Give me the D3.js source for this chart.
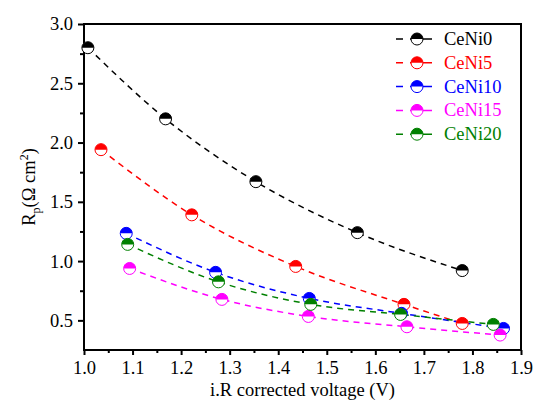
<!DOCTYPE html>
<html>
<head>
<meta charset="utf-8">
<script src="https://cdn.jsdelivr.net/npm/d3@7"></script>
<style>
  body { margin: 0; background: #fff; }
</style>
</head>
<body>
<div id="chart"></div>
<script>
// Series names and colours
const seriesNames = ["CeNi0", "CeNi5", "CeNi10", "CeNi15", "CeNi20"];
const seriesColors = ["#000000", "#ff0000", "#0000ff", "#ff00ff", "#008000"];

// Values: voltage (V) and Rp (ohm cm2)
const voltCeNi0 = [1.008, 1.168, 1.354, 1.563, 1.779];
const rpCeNi0 = [2.80, 2.20, 1.67, 1.24, 0.92];
const voltCeNi5 = [1.035, 1.222, 1.436, 1.659, 1.779];
const rpCeNi5 = [1.94, 1.39, 0.955, 0.635, 0.474];
const voltCeNi10 = [1.087, 1.271, 1.464, 1.654, 1.864];
const rpCeNi10 = [1.234, 0.905, 0.685, 0.559, 0.432];
const voltCeNi15 = [1.094, 1.284, 1.462, 1.665, 1.857];
const rpCeNi15 = [0.938, 0.677, 0.533, 0.446, 0.376];
const voltCeNi20 = [1.090, 1.277, 1.467, 1.652, 1.843];
const rpCeNi20 = [1.141, 0.825, 0.635, 0.550, 0.466];

// Tick values
const xTicks = [1.0, 1.1, 1.2, 1.3, 1.4, 1.5, 1.6, 1.7, 1.8, 1.9];
const xMinorTicks = [1.05, 1.15, 1.25, 1.35, 1.45, 1.55, 1.65, 1.75, 1.85];
const yTicks = [0.5, 1.0, 1.5, 2.0, 2.5, 3.0];
const yMinorTicks = [0.75, 1.25, 1.75, 2.25, 2.75];

const volts = [voltCeNi0, voltCeNi5, voltCeNi10, voltCeNi15, voltCeNi20];
const rps = [rpCeNi0, rpCeNi5, rpCeNi10, rpCeNi15, rpCeNi20];
const series = seriesNames.map((name, i) => ({
  name: name,
  color: seriesColors[i],
  points: volts[i].map((v, j) => ({ x: v, y: rps[i][j] })),
}));

const width = 535;
const height = 403;
const margin = { top: 24, right: 14, bottom: 53, left: 84 };
const FONT = '"Liberation Serif", "Times New Roman", serif';
const fontSize = 18.5;

const svg = d3
  .select("#chart")
  .append("svg")
  .attr("width", width)
  .attr("height", height);

const x = d3.scaleLinear().domain([1.0, 1.9]).range([margin.left, width - margin.right]);
const y = d3.scaleLinear().domain([0.25, 3.0]).range([height - margin.bottom, margin.top]);

// Axes: bottom and left with outward ticks
svg
  .append("g")
  .attr("transform", `translate(0,${y(0.25)})`)
  .call(d3.axisBottom(x).tickValues(xTicks).tickFormat(d3.format(".1f")).tickSize(5).tickPadding(6));
svg
  .append("g")
  .attr("transform", `translate(0,${y(0.25)})`)
  .call(d3.axisBottom(x).tickValues(xMinorTicks).tickFormat("").tickSize(3));

svg
  .append("g")
  .attr("transform", `translate(${x(1.0)},0)`)
  .call(d3.axisLeft(y).tickValues(yTicks).tickFormat(d3.format(".1f")).tickSize(6).tickPadding(5));
svg
  .append("g")
  .attr("transform", `translate(${x(1.0)},0)`)
  .call(d3.axisLeft(y).tickValues(yMinorTicks).tickFormat("").tickSize(4));

svg.selectAll(".domain").remove();
svg.selectAll(".tick line").attr("stroke", "#000").attr("stroke-width", 2);
svg
  .selectAll(".tick text")
  .attr("fill", "#000")
  .attr("font-family", null)
  .attr("font-size", null)
  .style("font-size", fontSize + "px")
  .style("font-family", FONT);

// Frame around the plot
svg
  .append("rect")
  .attr("x", x(1.0))
  .attr("y", y(3.0))
  .attr("width", x(1.9) - x(1.0))
  .attr("height", y(0.25) - y(3.0))
  .attr("fill", "none")
  .attr("stroke", "#000")
  .attr("stroke-width", 2);

// Dashed curves
const line = d3
  .line()
  .x((d) => x(d.x))
  .y((d) => y(d.y))
  .curve(d3.curveMonotoneX);

svg
  .append("g")
  .selectAll("path")
  .data(series)
  .join("path")
  .attr("d", (d) => line(d.points))
  .attr("fill", "none")
  .attr("stroke", (d) => d.color)
  .attr("stroke-width", 1.5)
  .attr("stroke-dasharray", "6,5");

// Half-filled circle marker
const r = 6;
function drawMarker(g, color) {
  g.append("circle").attr("r", r).attr("fill", "#fff");
  g.append("path")
    .attr("d", `M${-r},0A${r},${r} 0 0 1 ${r},0Z`)
    .attr("fill", color);
  g.append("circle")
    .attr("r", r)
    .attr("fill", "none")
    .attr("stroke", color)
    .attr("stroke-width", 1);
}

series.forEach((s) => {
  s.points.forEach((p) => {
    const g = svg.append("g").attr("transform", `translate(${x(p.x)},${y(p.y)})`);
    drawMarker(g, s.color);
  });
});

// Legend
const legend = svg.append("g").attr("transform", "translate(396,39)");
series.forEach((s, i) => {
  const row = legend.append("g").attr("transform", `translate(0,${i * 23.8})`);
  row
    .append("line")
    .attr("x1", 0)
    .attr("x2", 36)
    .attr("stroke", s.color)
    .attr("stroke-width", 1.5)
    .attr("stroke-dasharray", "7,7,22");
  drawMarker(row.append("g").attr("transform", "translate(21,0)"), s.color);
  row
    .append("text")
    .attr("x", 48)
    .attr("y", 6)
    .attr("fill", s.color)
    .style("font-family", FONT)
    .style("font-size", fontSize + "px")
    .text(s.name);
});

// Axis titles
svg
  .append("text")
  .attr("x", (x(1.0) + x(1.9)) / 2)
  .attr("y", 396)
  .attr("text-anchor", "middle")
  .style("font-family", FONT)
  .style("font-size", fontSize + "px")
  .text("i.R corrected voltage (V)");

const yTitle = svg
  .append("text")
  .attr("transform", `translate(35,${(y(0.25) + y(3.0)) / 2}) rotate(-90)`)
  .attr("text-anchor", "middle")
  .style("font-family", FONT)
  .style("font-size", fontSize + "px");
yTitle.append("tspan").text("R");
yTitle.append("tspan").attr("dy", 5).style("font-size", "12px").text("p");
yTitle.append("tspan").attr("dy", -5).text("(Ω cm");
yTitle.append("tspan").attr("dy", -7).style("font-size", "12px").text("2");
yTitle.append("tspan").attr("dy", 7).text(")");
</script>
</body>
</html>
